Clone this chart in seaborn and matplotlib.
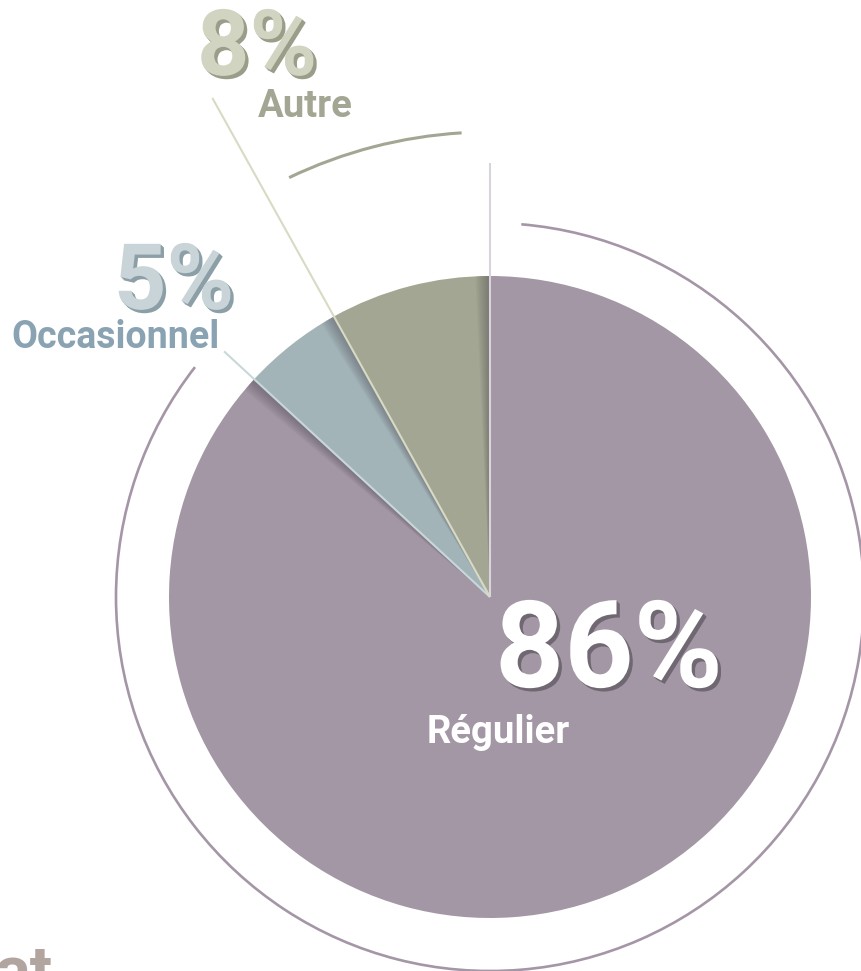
import numpy as np
import matplotlib
matplotlib.use('Agg')
import matplotlib.pyplot as plt
import matplotlib.patheffects as pe
from matplotlib.patches import Wedge, Arc
import seaborn as sns

# données du graphique
labels = ['Régulier', 'Occasionnel', 'Autre']
values = [86, 5, 8]
pct_labels = ['86%', '5%', '8%']
colors = ['#a396a5', '#a3b4b8', '#a3a692']
light_colors = ['#dad2dd', '#c8d8d9', '#d9dac4']

sns.set_style('white')
plt.rcParams['font.family'] = ['Roboto', 'DejaVu Sans']

W, H = 861, 971
cx, cy = 490, H - 597
R = 321


def py(y):
    # pixel (haut->bas) vers coordonnées des données
    return H - y


def polar(ang, r):
    a = np.deg2rad(ang)
    return cx + r * np.cos(a), cy + r * np.sin(a)


fig = plt.figure(figsize=(W / 100, H / 100), dpi=100)
ax = fig.add_axes([0, 0, 1, 1])

pal = sns.color_palette(colors)
wedges, _ = ax.pie(values, colors=pal, startangle=90, counterclock=False,
                   center=(cx, cy), radius=R, wedgeprops=dict(linewidth=0))

# ombres portées le long des bords
delta = 2.6
for w in wedges:
    for k in range(1, 11):
        sh = Wedge((cx, cy), R, w.theta1, w.theta1 + delta * k / 10,
                   facecolor='#3e3944', alpha=0.045, linewidth=0, zorder=2)
        ax.add_patch(sh)

# traits prolongeant les bords
line_len = [434, 362, 571]
for w, ln, lc in zip(wedges, line_len, light_colors):
    x1, y1 = polar(w.theta2, ln)
    ax.plot([cx, x1], [cy, y1], color=lc, lw=1.5, zorder=3,
            solid_capstyle='butt')

# arcs extérieurs
r_reg = 374
ax.add_patch(Arc((cx, cy), 2 * r_reg, 2 * r_reg, theta1=wedges[0].theta1 + 4.8,
                 theta2=wedges[0].theta2 - 4.8, color='#a596a7', lw=1.9, zorder=3))
r_aut = 465
ax.add_patch(Arc((cx, cy), 2 * r_aut, 2 * r_aut, theta1=wedges[2].theta1 + 3.5,
                 theta2=wedges[2].theta2 - 3.5, color='#a3a692', lw=2.2, zorder=3))


def extruded(x, y, s, size, face, back):
    effects = []
    for i in range(3, 0, -1):
        effects.append(pe.SimplePatchShadow(offset=(0.8 * i, -0.8 * i),
                                            shadow_rgbFace=back, alpha=1.0))
    effects.append(pe.Normal())
    ax.text(x, y, s, fontsize=size, fontweight='bold', color=face,
            ha='left', va='baseline', path_effects=effects, zorder=5)


# 86% Régulier
extruded(495, py(687), pct_labels[0], 87, 'white', '#6f6872')
ax.text(427, py(743), labels[0], fontsize=27.5, fontweight='bold',
        color='white', ha='left', va='baseline', zorder=5)

# 5% Occasionnel
extruded(114, py(309), pct_labels[1], 66, '#c8d4d7', '#8c9fa7')
ax.text(11, py(348), labels[1], fontsize=27, fontweight='bold',
        color='#8aa3b3', ha='left', va='baseline', zorder=5)

# 8% Autre
extruded(197, py(75), pct_labels[2], 66, '#d1d4c1', '#9b9d88')
ax.text(258, py(117), labels[2], fontsize=27.5, fontweight='bold',
        color='#a3a692', ha='left', va='baseline', zorder=5)

# texte tronqué en bas à gauche (coupé dans l'original)
ax.text(-5, py(992), 'at', fontsize=48, fontweight='bold', color='#b2a59f',
        ha='left', va='baseline', zorder=5)

ax.set_xlim(0, W)
ax.set_ylim(0, H)
ax.set_aspect('equal')
ax.axis('off')

fig.savefig('out.png', dpi=100, facecolor='white')
